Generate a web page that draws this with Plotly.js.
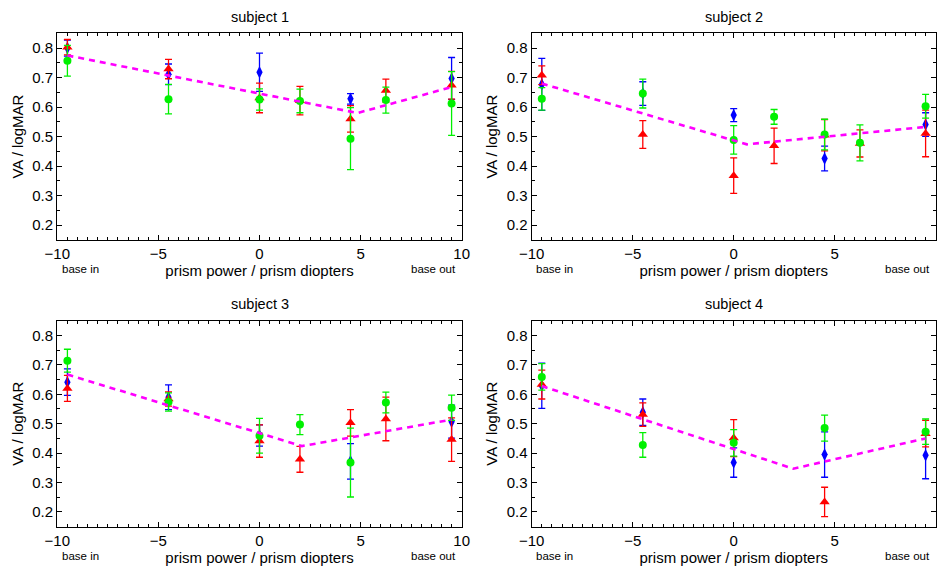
<!DOCTYPE html>
<html>
<head>
<meta charset="utf-8">
<script src="https://cdn.plot.ly/plotly-3.0.1.min.js"></script>
<style>html,body{margin:0;padding:0;background:#fff;}#chart{width:941px;height:568px;}</style>
</head>
<body>
<div id="chart"></div>
<script>
// ---- data ----
const subjects = ["subject 1", "subject 2", "subject 3", "subject 4"];
const xFull = [-9.5, -4.5, 0, 2, 4.5, 6.25, 9.5];
const xFive = [-9.5, -4.5, 0, 4.5, 9.5];

// subject 1
const s1BlueX = xFive;
const s1BlueY = [0.800, 0.711, 0.718, 0.628, 0.697];
const s1BlueErr = [0.027, 0.035, 0.065, 0.018, 0.071];
const s1RedX = xFull;
const s1RedY = [0.803, 0.729, 0.631, 0.622, 0.560, 0.656, 0.674];
const s1RedErr = [0.026, 0.033, 0.050, 0.048, 0.045, 0.039, 0.047];
const s1GreenX = xFull;
const s1GreenY = [0.757, 0.627, 0.626, 0.621, 0.493, 0.624, 0.612];
const s1GreenErr = [0.052, 0.050, 0.036, 0.040, 0.105, 0.044, 0.108];
const s1FitX = [-9.5, 4.85, 9.5];
const s1FitY = [0.775, 0.580, 0.668];

// subject 2
const s2BlueX = xFive;
const s2BlueY = [0.677, 0.646, 0.573, 0.426, 0.541];
const s2BlueErr = [0.088, 0.040, 0.022, 0.042, 0.040];
const s2RedX = xFull;
const s2RedY = [0.708, 0.507, 0.368, 0.469, 0.505, 0.477, 0.511];
const s2RedErr = [0.032, 0.047, 0.060, 0.060, 0.053, 0.046, 0.079];
const s2GreenX = xFull;
const s2GreenY = [0.628, 0.646, 0.489, 0.567, 0.507, 0.479, 0.603];
const s2GreenErr = [0.038, 0.049, 0.048, 0.025, 0.052, 0.061, 0.040];
const s2FitX = [-9.5, 0.65, 9.5];
const s2FitY = [0.680, 0.474, 0.533];

// subject 3
const s3BlueX = xFive;
const s3BlueY = [0.641, 0.590, 0.460, 0.372, 0.507];
const s3BlueErr = [0.045, 0.042, 0.036, 0.060, 0.056];
const s3RedX = xFull;
const s3RedY = [0.620, 0.584, 0.441, 0.379, 0.503, 0.516, 0.446];
const s3RedErr = [0.044, 0.024, 0.055, 0.044, 0.045, 0.074, 0.074];
const s3GreenX = xFull;
const s3GreenY = [0.714, 0.574, 0.459, 0.497, 0.368, 0.572, 0.554];
const s3GreenErr = [0.039, 0.031, 0.059, 0.034, 0.117, 0.035, 0.043];
const s3FitX = [-9.5, 2.1, 9.5];
const s3FitY = [0.667, 0.424, 0.514];

// subject 4
const s4BlueX = xFive;
const s4BlueY = [0.629, 0.539, 0.368, 0.395, 0.393];
const s4BlueErr = [0.077, 0.045, 0.050, 0.077, 0.080];
const s4RedX = xFive;
const s4RedY = [0.633, 0.531, 0.451, 0.234, 0.466];
const s4RedErr = [0.049, 0.040, 0.063, 0.050, 0.045];
const s4GreenX = xFive;
const s4GreenY = [0.659, 0.428, 0.435, 0.485, 0.473];
const s4GreenErr = [0.045, 0.042, 0.045, 0.044, 0.043];
const s4FitX = [-9.5, 2.95, 9.5];
const s4FitY = [0.628, 0.347, 0.450];

const xTickVals = [-10, -5, 0, 5, 10];
const yTickVals = [0.2, 0.3, 0.4, 0.5, 0.6, 0.7, 0.8];

// ---- build ----
const W = 941, H = 568;
const FONT = "Liberation Sans, Arial, Helvetica, sans-serif";
const panels = [
  {blue:[s1BlueX,s1BlueY,s1BlueErr], red:[s1RedX,s1RedY,s1RedErr], green:[s1GreenX,s1GreenY,s1GreenErr], fit:[s1FitX,s1FitY], px:[57.3,461.7], py:[33.3,240]},
  {blue:[s2BlueX,s2BlueY,s2BlueErr], red:[s2RedX,s2RedY,s2RedErr], green:[s2GreenX,s2GreenY,s2GreenErr], fit:[s2FitX,s2FitY], px:[531.7,935.7], py:[33.3,240]},
  {blue:[s3BlueX,s3BlueY,s3BlueErr], red:[s3RedX,s3RedY,s3RedErr], green:[s3GreenX,s3GreenY,s3GreenErr], fit:[s3FitX,s3FitY], px:[57.3,461.7], py:[320.7,526.7]},
  {blue:[s4BlueX,s4BlueY,s4BlueErr], red:[s4RedX,s4RedY,s4RedErr], green:[s4GreenX,s4GreenY,s4GreenErr], fit:[s4FitX,s4FitY], px:[531.7,935.7], py:[320.7,526.7]}
];

const styles = {
  blue:  {color:'#0000ff', symbol:'diamond-tall', size:9},
  red:   {color:'#ff0000', symbol:'triangle-up', size:9},
  green: {color:'#00f000', symbol:'circle', size:8}
};

const traces = [];
const layout = {
  width: W, height: H,
  margin: {l:0, r:0, t:0, b:0},
  paper_bgcolor: '#fff', plot_bgcolor: '#fff',
  showlegend: false,
  font: {family: FONT, size: 15, color: '#000'},
  annotations: []
};

panels.forEach((p, i) => {
  const k = i === 0 ? '' : String(i + 1);
  const xa = 'x' + k, ya = 'y' + k;
  ['blue','red','green'].forEach(name => {
    const d = p[name], s = styles[name];
    traces.push({
      type:'scatter', mode:'markers', x:d[0], y:d[1], xaxis:xa, yaxis:ya,
      marker:{color:s.color, symbol:s.symbol, size:s.size, line:{width:0}},
      error_y:{type:'data', array:d[2], visible:true, color:s.color, thickness:1.3, width:3.5},
      hoverinfo:'x+y'
    });
  });
  traces.push({
    type:'scatter', mode:'lines', x:p.fit[0], y:p.fit[1], xaxis:xa, yaxis:ya,
    line:{color:'#ff00ff', width:2.6, dash:'6px,5px'}, hoverinfo:'skip'
  });
  const common = {
    showline:true, linecolor:'#000', linewidth:1.3, mirror:'ticks',
    ticks:'inside', ticklen:5, tickwidth:1, tickcolor:'#000',
    showgrid:false, zeroline:false, tickfont:{size:15, family:FONT, color:'#000'},
    fixedrange:true
  };
  layout['xaxis' + k] = Object.assign({}, common, {
    domain:[p.px[0]/W, p.px[1]/W], anchor:ya, range:[-10,10],
    tickmode:'array', tickvals:xTickVals,
    minor:{dtick:0.5, tick0:0, ticks:'inside', ticklen:3, tickcolor:'#000', tickwidth:1, showgrid:false},
    title:{text:'prism power / prism diopters', font:{size:15, family:FONT}, standoff:0}
  });
  layout['yaxis' + k] = Object.assign({}, common, {
    domain:[1 - p.py[1]/H, 1 - p.py[0]/H], anchor:xa, range:[0.15,0.85],
    tickmode:'array', tickvals:yTickVals, ticktext:yTickVals.map(v => v.toFixed(1)),
    minor:{dtick:0.05, tick0:0, ticks:'inside', ticklen:3, tickcolor:'#000', tickwidth:1, showgrid:false},
    title:{text:'VA / logMAR', font:{size:15, family:FONT}, standoff:5}
  });
  const cx = (p.px[0] + p.px[1]) / 2;
  layout.annotations.push({
    text: subjects[i], xref:'paper', yref:'paper', x:cx/W, y:1 - (p.py[0]-16.7)/H,
    xanchor:'center', yanchor:'middle', showarrow:false, font:{size:14.5, family:FONT, color:'#000'}
  });
  layout.annotations.push({
    text:'base in', xref:'paper', yref:'paper', x:(p.px[0]+23)/W, y:1 - (p.py[1]+29)/H,
    xanchor:'center', yanchor:'middle', showarrow:false, font:{size:11.5, family:FONT, color:'#000'}
  });
  layout.annotations.push({
    text:'base out', xref:'paper', yref:'paper', x:(p.px[1]-28)/W, y:1 - (p.py[1]+29)/H,
    xanchor:'center', yanchor:'middle', showarrow:false, font:{size:11.5, family:FONT, color:'#000'}
  });
});

Plotly.newPlot('chart', traces, layout, {displayModeBar:false});
</script>
</body>
</html>
